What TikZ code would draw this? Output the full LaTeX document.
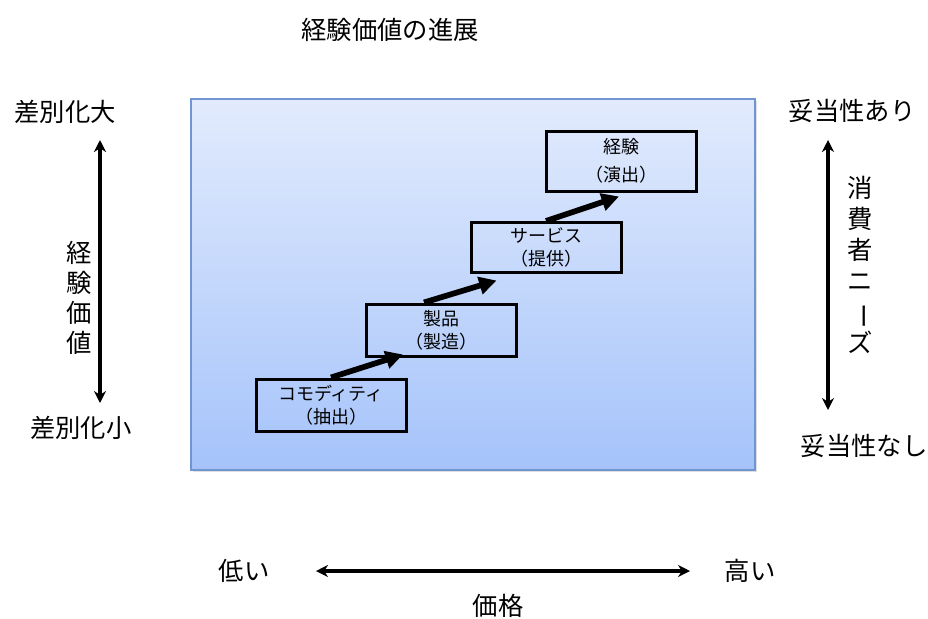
\documentclass[tikz,border=0pt]{standalone}
\usepackage{fontspec}
\usepackage{graphicx}
\setmainfont{Noto Sans CJK JP}
\usetikzlibrary{arrows.meta,calc,shadows}

\definecolor{paneltop}{HTML}{E2EBFD}
\definecolor{panelbot}{HTML}{A5C3FA}
\definecolor{panelline}{HTML}{6F96D0}

\begin{document}
\begin{tikzpicture}[x=0.75pt,y=-0.75pt,
    stage/.style={draw=black, line width=2.25pt, minimum width=112.5pt, minimum height=37.5pt,
                  align=center, font=\fontsize{13.5}{17}\selectfont, inner sep=0pt},
    stair/.style={line width=4.3pt, -{Triangle[length=13pt,width=13pt]}},
    scale arrow/.style={line width=2.4pt, {Stealth[length=9pt,width=9pt]}-{Stealth[length=9pt,width=9pt]}},
    side/.style={font=\fontsize{19}{22.5}\selectfont, inner sep=0pt, align=center}]
            \useasboundingbox (0,0) rectangle (928,618);

            % Draw panel
            \shade[top color=paneltop, bottom color=panelbot,
                   drop shadow={shadow xshift=1.5pt, shadow yshift=-1.5pt, opacity=0.25}]
                (191,99) rectangle (755,470);
            \draw[panelline, line width=1.2pt] (191,99) rectangle (755,470);

            % Stages
            \node[stage, minimum height=45pt, font=\fontsize{13.5}{21}\selectfont] (exp) at (621,161) {経験\\（演出）};
            \node[stage] (serv) at (546,247.5) {サービス\\（提供）};
            \node[stage, minimum height=39pt] (prod) at (441,330) {製品\\（製造）};
            \node[stage, minimum height=39pt] (comm) at (331,405) {コモディティ\\（抽出）};

            \draw[stair] (comm.north) -- ($(prod.south west)+(38.5,-3)$);
            \draw[stair] ($(prod.north)+(-17,0)$) -- ($(serv.south west)+(27,6.5)$);
            \draw[stair] (serv.north) -- ($(exp.south)+(-2,4)$);

            % Title
            \node[side] (title) at (390,30) {経験価値の進展};

            % Left axis
            \node[side] (diffbig) at (65,112) {差別化大};
            \node[side] (diffsmall) at (81,428) {差別化小};
            \coordinate (ltop) at (100,140);
            \coordinate (lbot) at (100,403);
            \draw[scale arrow] (ltop) -- (lbot);
            \node[side] (expval) at (79,297.5) {経\\験\\価\\値};

            % Right axis
            \node[side] (fitting) at (852,111) {妥当性あり};
            \node[side] (unfitting) at (864,446) {妥当性なし};
            \coordinate (rtop) at (828,140);
            \coordinate (rbot) at (828,410);
            \draw[scale arrow] (rtop) -- (rbot);
            \node[side, font=\fontsize{19}{23.25}\selectfont] (needs) at (860,265)
                {消\\費\\者\\ニ\\\rotatebox[origin=c]{-90}{ー}\\ズ};

            % Price axis
            \node[side] (low) at (244,571) {低い};
            \node[side] (high) at (750,571) {高い};
            \coordinate (pleft) at (316,571);
            \coordinate (pright) at (690,571);
            \draw[scale arrow] (pleft) -- (pright);
            \node[side] (price) at (498,606) {価格};
        \end{tikzpicture}
\end{document}
